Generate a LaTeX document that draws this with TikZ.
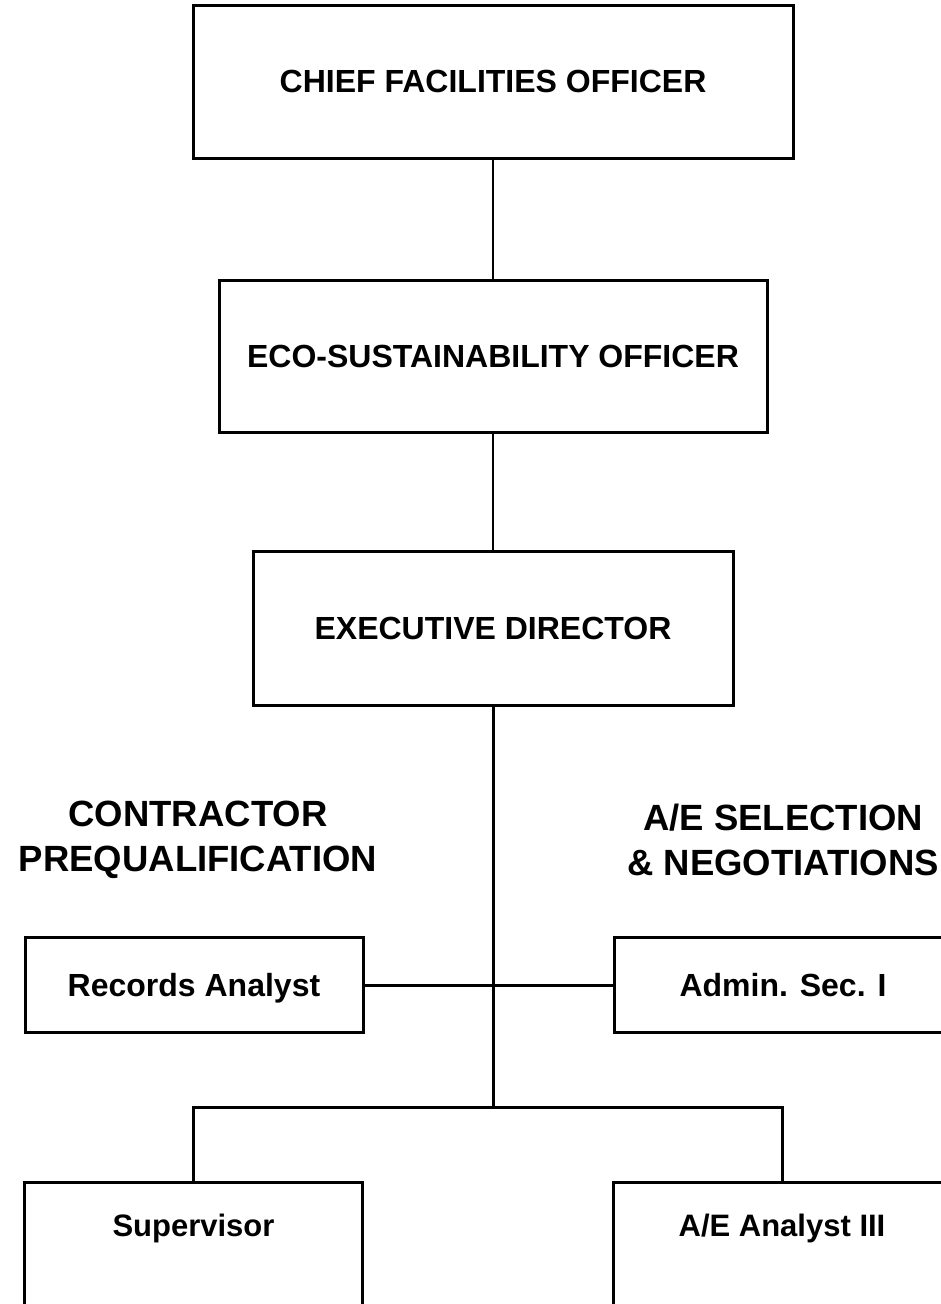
\documentclass[tikz,border=0pt]{standalone}
\usepackage{fontspec}
\setmainfont{Liberation Sans}
\begin{document}
\begin{tikzpicture}[x=1pt,y=-1pt,
  box/.style={draw, line width=3pt, inner sep=0pt,
    font=\fontsize{32}{38}\selectfont\bfseries},
  staff/.style={box, minimum width=338, text height=58.5pt, text depth=36.5pt,
    font=\fontsize{32}{38}\selectfont\bfseries},
  unit/.style={box, minimum width=338, text height=54pt, text depth=110pt,
    font=\fontsize{31}{37}\selectfont\bfseries},
  section/.style={align=center, inner sep=0pt,
    font=\fontsize{36.5}{45}\selectfont\bfseries},
  thinlink/.style={line width=1.3pt},
  thicklink/.style={line width=3pt}]
\useasboundingbox (0,0) rectangle (941,1304);
\clip (0,0) rectangle (941,1304);

% management chain
\node[box, minimum width=600, minimum height=153] (cfo)  at (493,81.5) {CHIEF FACILITIES OFFICER};
\node[box, minimum width=548, minimum height=152] (eco)  at (493,356)  {ECO-SUSTAINABILITY OFFICER};
\node[box, minimum width=480, minimum height=154] (exec) at (493,628)  {EXECUTIVE DIRECTOR};

% section headings
\node[section] (hcp) at (198,839.5) {CONTRACTOR\\PREQUALIFICATION};
\node[section] (hae) at (783,839.5) {A/E SELECTION\\\& NEGOTIATIONS};

% staff positions (box centre at y = 985)
\node[staff, anchor=base] (rec) at (194,996) {Records Analyst};
\node[staff, anchor=base] (adm) at (783,996) {Admin. Sec. I};

% section units
\node[unit, anchor=base] (sup) at (193.5,1236) {Supervisor};
\node[unit, anchor=base] (aea) at (782,1236) {A/E Analyst III};

\coordinate (split) at (493,1107);

% connectors
\draw[thinlink] (cfo.south) -- (eco.north);
\draw[thinlink] (eco.south) -- (exec.north);
\draw[thicklink] (exec.south) -- (split);
\draw[thicklink] (rec.east) -- (adm.west);
\draw[thicklink] (sup.north) |- (split) -| (aea.north);
\end{tikzpicture}
\end{document}
